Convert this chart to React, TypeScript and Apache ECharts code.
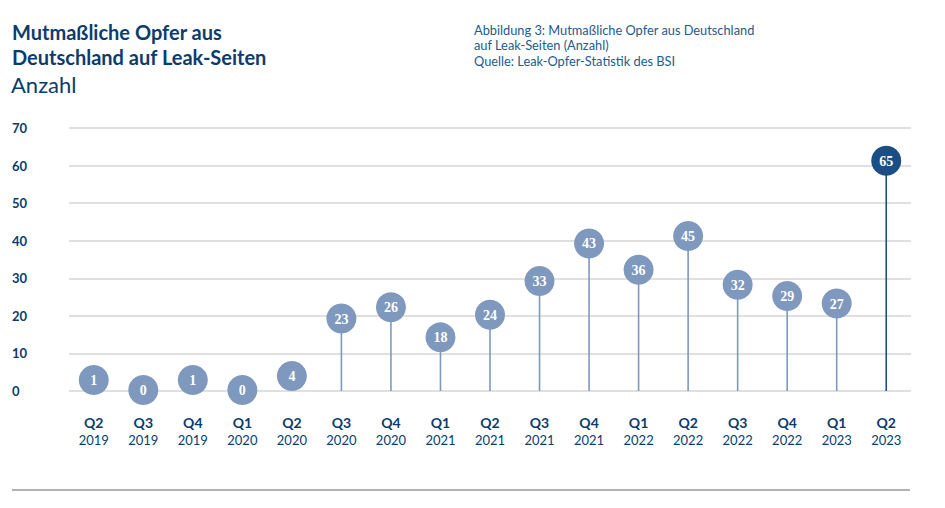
import React, { useEffect, useRef } from "react";
import * as echarts from "echarts";

const quarters = ["Q2","Q3","Q4","Q1","Q2","Q3","Q4","Q1","Q2","Q3","Q4","Q1","Q2","Q3","Q4","Q1","Q2"];
const years = ["2019","2019","2019","2020","2020","2020","2020","2021","2021","2021","2021","2022","2022","2022","2022","2023","2023"];
const victims = [1, 0, 1, 0, 4, 23, 26, 18, 24, 33, 43, 36, 45, 32, 29, 27, 65];
const yTicks = [0, 70, 10];
const titleLines = ["Mutmaßliche Opfer aus", "Deutschland auf Leak-Seiten"];
const subtitle = "Anzahl";
const sourceLines = [
  "Abbildung 3: Mutmaßliche Opfer aus Deutschland",
  "auf Leak-Seiten (Anzahl)",
  "Quelle: Leak-Opfer-Statistik des BSI",
];

const NAVY = "#0b3c6e";
const LIGHT = "#7e98be";
const DARK = "#1b4e85";
const FONT = "Lato, 'Noto Sans', sans-serif";

export default function App() {
  const ref = useRef<HTMLDivElement>(null);
  useEffect(() => {
    if (!ref.current) return;
    const chart = echarts.init(ref.current, null, { renderer: "svg" });
    const last = victims.length - 1;
    const R = 15;
    chart.setOption({
      animation: false,
      backgroundColor: "#ffffff",
      grid: { left: 69, right: 34, top: 128, bottom: 117, containLabel: false },
      xAxis: {
        type: "category",
        data: quarters.map((q, i) => q + "\n" + years[i]),
        boundaryGap: true,
        axisLine: { show: false },
        axisTick: { show: false },
        axisLabel: {
          interval: 0,
          margin: 22,
          formatter: (_v: string, i: number) => `{q|${quarters[i]}}\n{y|${years[i]}}`,
          rich: {
            q: { fontFamily: FONT, fontSize: 14, fontWeight: "bold", color: NAVY, lineHeight: 18 },
            y: { fontFamily: FONT, fontSize: 13, color: NAVY, lineHeight: 18 },
          },
        },
      },
      yAxis: {
        type: "value",
        min: yTicks[0],
        max: yTicks[1],
        interval: yTicks[2],
        axisLine: { show: false },
        axisTick: { show: false },
        splitLine: { lineStyle: { color: "#d6d6d6", width: 1.5 } },
        axisLabel: {
          align: "left",
          margin: 57,
          fontFamily: FONT,
          fontSize: 13,
          fontWeight: "bold",
          color: NAVY,
        },
      },
      series: [
        {
          type: "custom",
          clip: false,
          data: victims.map((v, i) => [i, v]),
          encode: { x: 0, y: 1 },
          renderItem: (params: any, api: any) => {
            const i = api.value(0);
            const v = api.value(1);
            const top = api.coord([i, v]);
            const base = api.coord([i, 0]);
            let cy: number;
            if (v >= 10) cy = top[1] + 14;
            else if (v === 0) cy = base[1] - 1;
            else cy = Math.min(top[1], base[1] - 11);
            const color = i === last ? DARK : LIGHT;
            return {
              type: "group",
              children: [
                {
                  type: "line",
                  shape: { x1: base[0], y1: base[1], x2: base[0], y2: cy },
                  style: { stroke: color, lineWidth: 1.6 },
                },
                {
                  type: "circle",
                  shape: { cx: base[0], cy, r: R },
                  style: { fill: color },
                },
                {
                  type: "text",
                  x: base[0],
                  y: cy + 0.5,
                  style: {
                    text: String(v),
                    fill: "#ffffff",
                    fontFamily: "'Liberation Serif', 'DejaVu Serif', serif",
                    fontWeight: "bold",
                    fontSize: 14,
                    align: "center",
                    verticalAlign: "middle",
                  },
                },
              ],
            };
          },
        },
      ],
      graphic: [
        ...titleLines.map((t, k) => ({
          type: "text",
          left: 12,
          top: 22 + k * 25,
          style: { text: t, fill: NAVY, fontFamily: FONT, fontSize: 20, fontWeight: "bold" },
        })),
        {
          type: "text",
          left: 11,
          top: 73,
          style: { text: subtitle, fill: NAVY, fontFamily: FONT, fontSize: 22 },
        },
        ...sourceLines.map((t, k) => ({
          type: "text",
          left: 474,
          top: 23 + k * 15.5,
          style: { text: t, fill: "#225b8f", fontFamily: FONT, fontSize: 12.8 },
        })),
        {
          type: "line",
          shape: { x1: 12, y1: 490, x2: 910, y2: 490 },
          style: { stroke: "#b3b3b3", lineWidth: 2 },
        },
      ],
    });
    return () => chart.dispose();
  }, []);
  return (
    <div
      ref={ref}
      style={{ position: "fixed", left: 0, top: 0, width: 945, height: 508, background: "#fff" }}
    />
  );
}
